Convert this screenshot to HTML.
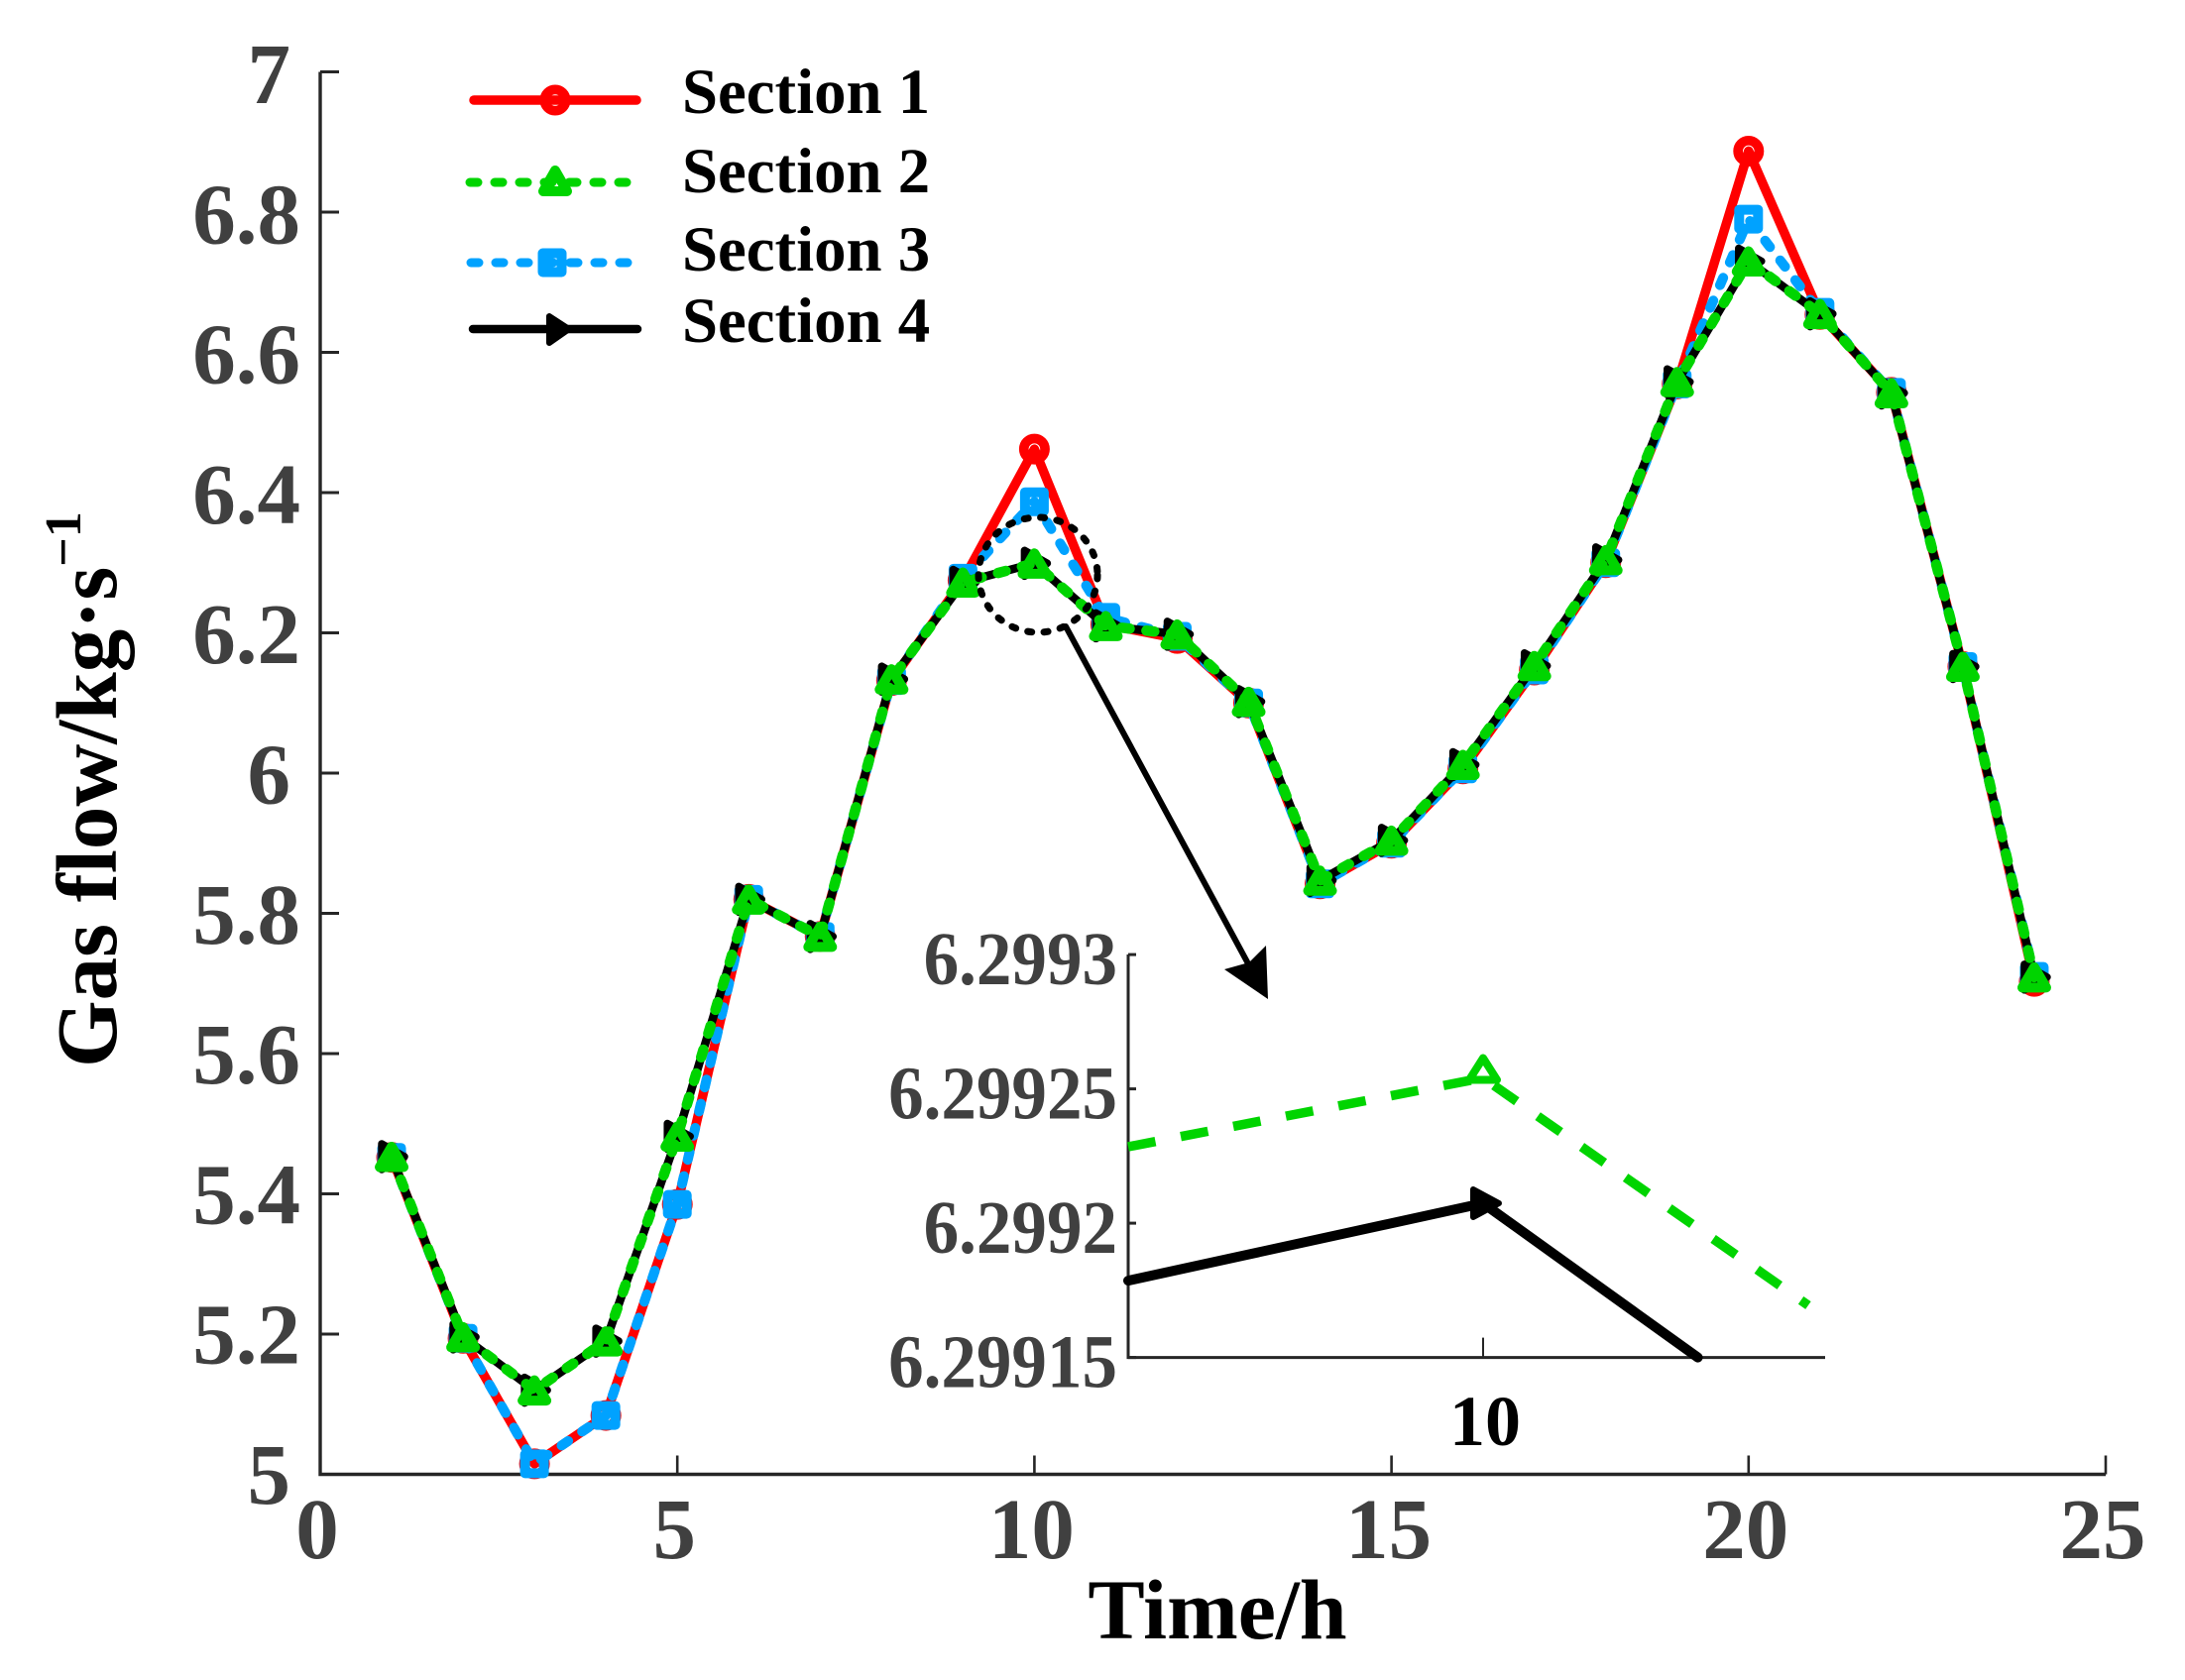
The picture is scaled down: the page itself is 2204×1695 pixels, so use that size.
<!DOCTYPE html>
<html lang="en">
<head>
<meta charset="utf-8">
<title>Gas flow by section over time</title>
<style>
html,body{margin:0;padding:0;background:#fff;}
svg{display:block;}
text{font-family:"Liberation Serif",serif;font-weight:bold;font-variant-ligatures:none;}
</style>
</head>
<body>
<svg id="chart" xmlns="http://www.w3.org/2000/svg" width="2204" height="1695" viewBox="0 0 2204 1695">
  <rect width="2204" height="1695" fill="#fff"/>
  <g id="main-axes"></g>
  <g id="main-series"></g>
  <text x="1228" y="1653" font-size="86" text-anchor="middle" fill="#000">Time/h</text>
  <text transform="translate(117,1077) rotate(-90)" font-size="87" fill="#000">Gas flow/kg·s<tspan font-size="52" dy="-36">−1</tspan></text>

  <ellipse cx="1047" cy="580" rx="60" ry="58" fill="none" stroke="#000" stroke-width="7" stroke-linecap="round" stroke-dasharray="4 12.5"/>
  <g>
    <line x1="1075" y1="632" x2="1261" y2="976" stroke="#000" stroke-width="6" stroke-linecap="round"/>
    <polygon points="1279,1008 1277,954 1260,971 1235,978" fill="#000"/>
  </g>

  <g id="inset-axes"></g>
  <g id="inset-series"></g>

  <g>
    <g>
      <line x1="478" y1="101" x2="642" y2="101" stroke="#ff0000" stroke-width="9.5" stroke-linecap="round"/>
      <circle cx="560" cy="101" r="10.65" fill="none" stroke="#ff0000" stroke-width="9.7"/>
      <text x="688" y="114" font-size="64.8" fill="#000">Section 1</text>
    </g>
    <g>
      <line x1="474" y1="184" x2="632" y2="184" stroke="#00d400" stroke-width="9" stroke-linecap="round" stroke-dasharray="8 17"/>
      <polygon points="560,172 548,193 572,193" fill="none" stroke="#00d400" stroke-width="10" stroke-linejoin="round"/>
      <text x="688" y="194" font-size="64.8" fill="#000">Section 2</text>
    </g>
    <g>
      <line x1="475" y1="265" x2="633" y2="265" stroke="#00a2ff" stroke-width="9" stroke-linecap="round" stroke-dasharray="8 17"/>
      <rect x="547.5" y="255.5" width="19" height="19" fill="none" stroke="#00a2ff" stroke-width="10" stroke-linejoin="round"/>
      <text x="688" y="273" font-size="64.8" fill="#000">Section 3</text>
    </g>
    <g>
      <line x1="477" y1="332" x2="643" y2="332" stroke="#000" stroke-width="8.5" stroke-linecap="round"/>
      <polygon points="554,319 554,346 574,332" fill="#000" stroke="#000" stroke-width="6" stroke-linejoin="round"/>
      <text x="688" y="345" font-size="64.8" fill="#000">Section 4</text>
    </g>
  </g>
</svg>

<script>
// Main chart data
const hours = [1,2,3,4,5,6,7,8,9,10,11,12,13,14,15,16,17,18,19,20,21,22,23,24];
const section1 = [5.452,5.194,5.015,5.084,5.385,5.82,5.767,6.132,6.275,6.462,6.212,6.192,6.1,5.842,5.9,6.006,6.147,6.3,6.555,6.887,6.654,6.543,6.152,5.703];
const section2 = [5.453,5.196,5.12,5.19,5.482,5.82,5.767,6.134,6.272,6.2992,6.21,6.198,6.102,5.847,5.904,6.012,6.153,6.304,6.558,6.73,6.655,6.542,6.152,5.709];
const section3 = [5.452,5.194,5.015,5.084,5.385,5.82,5.767,6.132,6.278,6.387,6.222,6.195,6.1,5.842,5.9,6.006,6.147,6.3,6.555,6.79,6.657,6.543,6.152,5.71];
const section4 = [5.453,5.196,5.12,5.19,5.482,5.82,5.767,6.134,6.272,6.2992,6.21,6.198,6.102,5.847,5.904,6.012,6.153,6.304,6.558,6.73,6.655,6.542,6.152,5.709];
const xTicks = [0,5,10,15,20,25];
const yTicks = [5,5.2,5.4,5.6,5.8,6,6.2,6.4,6.6,6.8,7];
const yTickLabels = ["5","5.2","5.4","5.6","5.8","6","6.2","6.4","6.6","6.8","7"];

// Inset chart data
const insetTimes2 = [9.999,10,10.000916];
const insetValues2 = [6.29922845,6.2992541,6.2991694];
const insetTimes4 = [9.999,10,10.000605];
const insetValues4 = [6.2991786,6.2992074,6.29915];
const insetYTicks = [6.29915,6.2992,6.29925,6.2993];
const insetYTickLabels = ["6.29915","6.2992","6.29925","6.2993"];
const insetXTicks = [10];
const insetXTickLabels = ["10"];

const NS = "http://www.w3.org/2000/svg";
function mk(tag, parent, attrs, text) {
  const el = document.createElementNS(NS, tag);
  for (const k in attrs) el.setAttribute(k, attrs[k]);
  if (text !== undefined) el.textContent = text;
  parent.appendChild(el);
  return el;
}

// Axis functions
const xMain = t => 323 + (t - 0) * 72.04;
const yMain = v => 1487.5 - (v - 5) * 707.5;
const xInset = t => 1496 + (t - 10) * 358000;
const yInset = v => 963.1 + (6.2993 - v) * 2710000;

const axesG = document.getElementById("main-axes");
const axisLine = mk("path", axesG, {d:"M"+xMain(0)+" "+yMain(7)+"V"+yMain(5)+"H"+xMain(25), fill:"none", stroke:"#262626", "stroke-width":3.4});



xTicks.forEach(function (t) {
  const tick = mk("line", axesG, {x1:xMain(t), x2:xMain(t), y1:yMain(5), y2:yMain(5)-19, stroke:"#262626", "stroke-width":2.6});
  
  
  const label = mk("text", axesG, {x:xMain(t)-3, y:1572, "font-size":87, "text-anchor":"middle", fill:"#404040"}, String(t));
  
  
});
yTicks.forEach(function (v, i) {
  const tick = mk("line", axesG, {x1:xMain(0), x2:xMain(0)+19, y1:yMain(v), y2:yMain(v), stroke:"#262626", "stroke-width":3});
  
  
  const s = yTickLabels[i];
  const label = mk("text", axesG, {x:s.indexOf(".") >= 0 ? 303 : 293, y:yMain(v)+29.5+(v-5)*1, "font-size":87, "text-anchor":"end", fill:"#404040"}, s);
  
  
});

function marker(parent, kind, x, y, color) {
  if (kind === "circle") return mk("circle", parent, {cx:x, cy:y, r:10.65, fill:"none", stroke:color, "stroke-width":9.7});
  if (kind === "square") return mk("rect", parent, {x:x-9.5, y:y-9.5, width:19, height:19, fill:"none", stroke:color, "stroke-width":10, "stroke-linejoin":"round"});
  if (kind === "triangle") return mk("polygon", parent, {points:(x)+","+(y-10)+" "+(x-12)+","+(y+10.5)+" "+(x+12)+","+(y+10.5), fill:"none", stroke:color, "stroke-width":10, "stroke-linejoin":"round"});
  return mk("polygon", parent, {points:(x-10)+","+(y-13)+" "+(x-10)+","+(y+13)+" "+(x+13)+","+y, fill:color, stroke:color, "stroke-width":7.5, "stroke-linejoin":"round"});
}

const seriesG = document.getElementById("main-series");
function drawSeries(values, color, width, dash, kind, name) {
  const g = mk("g", seriesG, {});
  
  
  const pts = hours.map((h, i) => xMain(h) + "," + yMain(values[i])).join(" ");
  const attrs = {points:pts, fill:"none", stroke:color, "stroke-width":width, "stroke-linejoin":"round", "stroke-linecap":"round"};
  if (dash) attrs["stroke-dasharray"] = dash;
  mk("polyline", g, attrs);
  hours.forEach((h, i) => marker(g, kind, xMain(h), yMain(values[i]), color));
}
drawSeries(section1, "#ff0000", 9.5, null, "circle", "series-section-1");
drawSeries(section3, "#00a2ff", 10, "8 17", "square", "series-section-3");
drawSeries(section4, "#000000", 8.5, null, "arrow", "series-section-4");
drawSeries(section2, "#00d400", 10.5, "8 17", "triangle", "series-section-2");

// Inset axes
const inAxes = document.getElementById("inset-axes");
const inLine = mk("path", inAxes, {d:"M1138 963V1369.6H1841", fill:"none", stroke:"#262626", "stroke-width":3});


insetYTicks.forEach(function (v, i) {
  const tick = mk("line", inAxes, {x1:1138, x2:1146, y1:yInset(v), y2:yInset(v), stroke:"#262626", "stroke-width":3});
  
  
  const label = mk("text", inAxes, {transform:"translate(1127,"+(yInset(v)+30)+") scale(.935,1)", "font-size":76, "text-anchor":"end", fill:"#404040"}, insetYTickLabels[i]);
  
  
});
insetXTicks.forEach(function (t, i) {
  const tick = mk("line", inAxes, {x1:xInset(t), x2:xInset(t), y1:1369.6, y2:1349.6, stroke:"#262626", "stroke-width":2});
  
  
  const label = mk("text", inAxes, {x:xInset(t)+2, y:1458, "font-size":72, "text-anchor":"middle", fill:"#000"}, insetXTickLabels[i]);
  
  
});

// Inset series
const inSeries = document.getElementById("inset-series");
const in4 = mk("g", inSeries, {});


mk("polyline", in4, {points:insetTimes4.map((t, i) => xInset(t) + "," + yInset(insetValues4[i])).join(" "), fill:"none", stroke:"#000", "stroke-width":10, "stroke-linecap":"round", "stroke-linejoin":"round"});
const xA = xInset(insetTimes4[1]), yA = yInset(insetValues4[1]);
mk("polygon", in4, {points:(xA-10)+","+(yA-14)+" "+(xA-10)+","+(yA+14)+" "+(xA+16)+","+yA, fill:"#000", stroke:"#000", "stroke-width":6, "stroke-linejoin":"round"});

const in2 = mk("g", inSeries, {});


mk("polyline", in2, {points:insetTimes2.map((t, i) => xInset(t) + "," + yInset(insetValues2[i])).join(" "), fill:"none", stroke:"#00d400", "stroke-width":9.5, "stroke-dasharray":"28 26"});
const xT = xInset(insetTimes2[1]), yT = yInset(insetValues2[1]);
mk("polygon", in2, {points:xT+","+(yT-20)+" "+(xT-14)+","+(yT+2)+" "+(xT+14)+","+(yT+2), fill:"none", stroke:"#00d400", "stroke-width":8, "stroke-linejoin":"round"});
</script>
</body>
</html>
